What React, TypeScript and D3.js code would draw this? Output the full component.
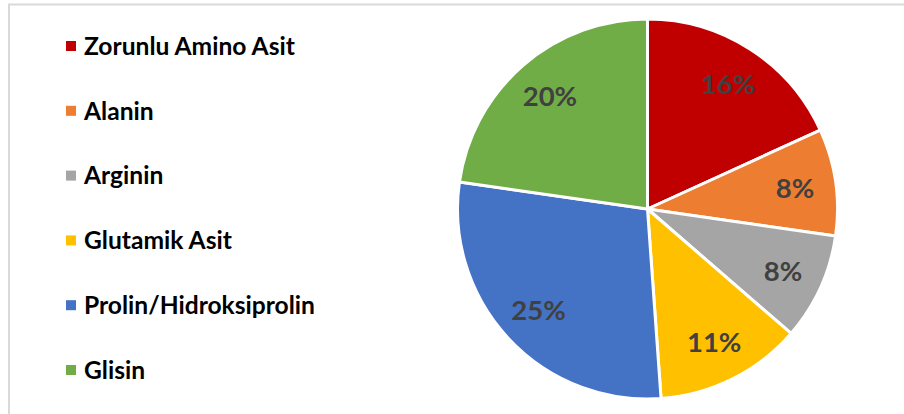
import React, { useEffect, useRef } from 'react';
import * as d3 from 'd3';

const categories = ['Zorunlu Amino Asit', 'Alanin', 'Arginin', 'Glutamik Asit', 'Prolin/Hidroksiprolin', 'Glisin'];
const values = [16, 8, 8, 11, 25, 20];
const colors = ['#C00000', '#ED7D31', '#A5A5A5', '#FFC000', '#4472C4', '#70AD47'];

const App: React.FC = () => {
  const svgRef = useRef<SVGSVGElement>(null);

  useEffect(() => {
    if (!svgRef.current) return;
    const svg = d3.select(svgRef.current);
    svg.selectAll('*').remove();

    const width = 904;
    const height = 414;
    const font = 'Lato, "Open Sans", sans-serif';

    svg.append('rect')
      .attr('width', width)
      .attr('height', height)
      .attr('fill', '#fff');

    // chart frame
    svg.append('rect')
      .attr('x', 9)
      .attr('y', 4.5)
      .attr('width', width + 20)
      .attr('height', height + 20)
      .attr('fill', 'none')
      .attr('stroke', '#D9D9D9')
      .attr('stroke-width', 2);

    const cx = 647.5;
    const cy = 209;
    const radius = 190;

    const pie = d3.pie<number>().sort(null).value(d => d);
    const arcs = pie(values);
    const arc = d3.arc<d3.PieArcDatum<number>>().innerRadius(0).outerRadius(radius);
    const labelArc = d3.arc<d3.PieArcDatum<number>>().innerRadius(149).outerRadius(149);

    const g = svg.append('g').attr('transform', `translate(${cx},${cy})`);

    g.selectAll('path')
      .data(arcs)
      .join('path')
        .attr('d', arc)
        .attr('fill', (d, i) => colors[i])
        .attr('stroke', '#fff')
        .attr('stroke-width', 3)
        .attr('stroke-linejoin', 'round');

    g.selectAll('text')
      .data(arcs)
      .join('text')
        .attr('x', d => labelArc.centroid(d)[0])
        .attr('y', d => labelArc.centroid(d)[1])
        .attr('dy', '0.36em')
        .attr('text-anchor', 'middle')
        .attr('font-family', font)
        .attr('font-weight', 'bold')
        .attr('font-size', 27.5)
        .attr('fill', '#404040')
        .text(d => `${d.data}%`);

    // legend
    const legendY = d3.scalePoint<string>()
      .domain(categories)
      .range([46, 370]);

    const legend = svg.append('g')
      .selectAll('g')
      .data(categories)
      .join('g')
        .attr('transform', d => `translate(66,${legendY(d)})`);

    legend.append('rect')
      .attr('x', 0)
      .attr('y', -5)
      .attr('width', 10)
      .attr('height', 10)
      .attr('fill', (d, i) => colors[i]);

    legend.append('text')
      .attr('x', 18)
      .attr('y', 0)
      .attr('dy', '0.36em')
      .attr('font-family', font)
      .attr('font-weight', 'bold')
      .attr('font-size', 24.6)
      .attr('fill', '#000')
      .text(d => d);
  }, []);

  return (
    <div style={{ position: 'absolute', left: 0, top: 0, width: 904, height: 414, overflow: 'hidden' }}>
      <svg ref={svgRef} width={904} height={414} style={{ display: 'block' }}></svg>
    </div>
  );
};

export default App;
